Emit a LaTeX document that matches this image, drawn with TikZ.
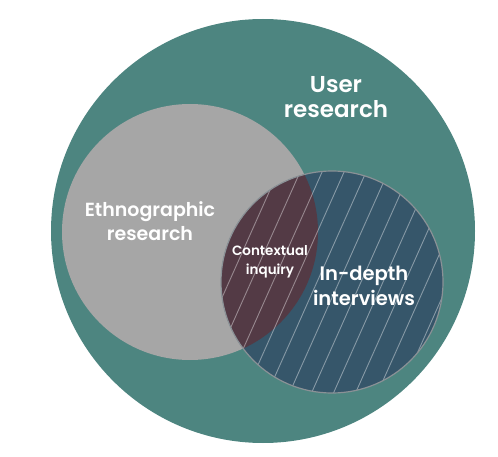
\documentclass[tikz,border=0pt]{standalone}
\usepackage{fontspec}
\setmainfont{Poppins}[BoldFont={Poppins SemiBold}]
\definecolor{userteal}{HTML}{4D8580}
\definecolor{ethnogray}{HTML}{A6A6A6}
\definecolor{depthblue}{HTML}{36566A}
\definecolor{overlapred}{HTML}{533A45}
\definecolor{rimgray}{HTML}{8A9196}
\begin{document}
\begin{tikzpicture}[x=1pt,y=1pt,
  venntext/.style={text=white,align=center,inner sep=0pt},
  hatch/.style={draw=white,draw opacity=0.4,line width=0.9pt}]
\useasboundingbox (0,0) rectangle (498,-457);

\draw 	(263,-231) node[circle,fill=userteal,minimum size=424pt,inner sep=0pt](user){}
		(190,-232) node[circle,fill=ethnogray,minimum size=256pt,inner sep=0pt](ethno){}
		(332,-282) node[circle,fill=depthblue,minimum size=222pt,inner sep=0pt](depth){};

\begin{scope}
  \clip (ethno.center) circle (128);
  \fill[overlapred] (depth.center) circle (111);
\end{scope}
\begin{scope}
  \clip (depth.center) circle (111);
  \foreach \k in {-8,...,8}
    \draw[hatch] ([shift={(\k*22+7+58,130)}]depth.center) -- ([shift={(\k*22+7-58,-130)}]depth.center);
\end{scope}
\draw[rimgray,line width=1.2pt] (depth.center) circle (111);

\node[venntext,font=\fontsize{23}{25}\selectfont\bfseries](userlabel) at (336,-97){User\\research};
\node[venntext,font=\fontsize{19}{24}\selectfont\bfseries](ethnolabel) at (150,-221){Ethnographic\\research};
\node[venntext,font=\fontsize{13.5}{19}\selectfont\bfseries](ctxlabel) at (270,-261.5){Contextual\\inquiry};
\node[venntext,font=\fontsize{19.5}{25}\selectfont\bfseries](depthlabel) at (364,-285.5){In-depth\\interviews};
\end{tikzpicture}
\end{document}
